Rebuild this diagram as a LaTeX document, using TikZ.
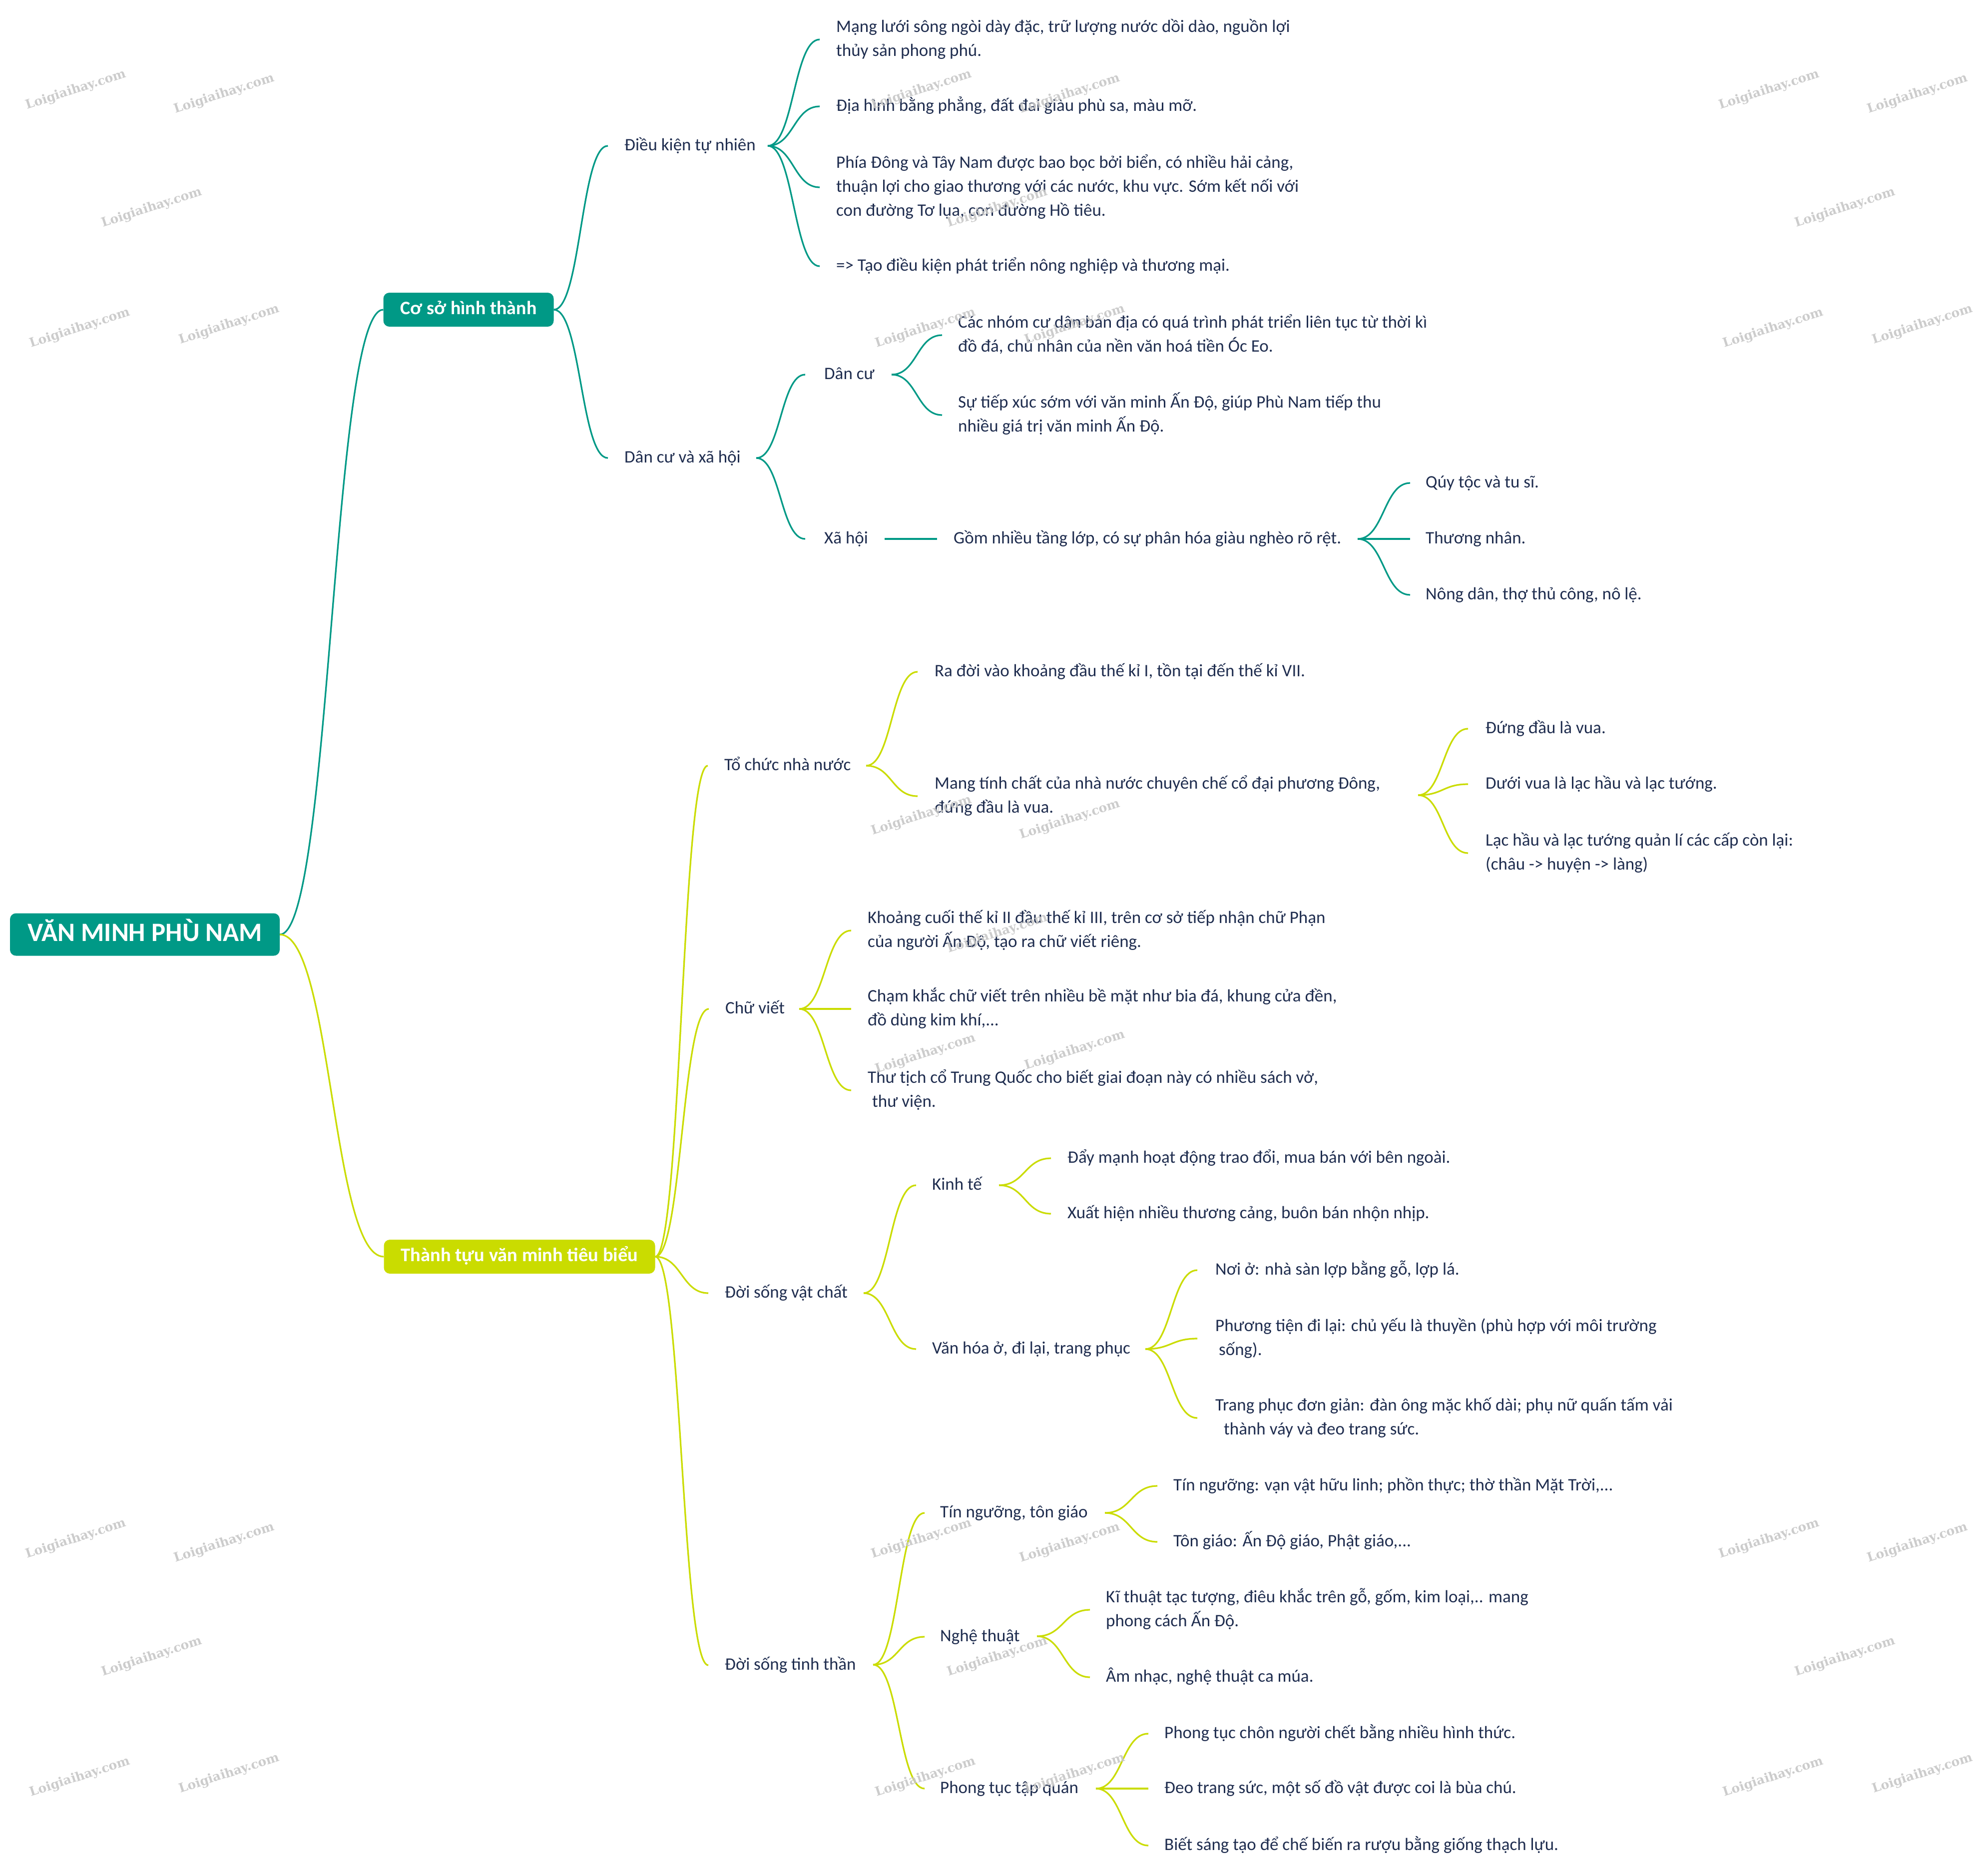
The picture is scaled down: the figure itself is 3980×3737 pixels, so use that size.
\documentclass[tikz,border=0pt]{standalone}
\usepackage{fontspec}
\setmainfont{Carlito}
\newfontfamily\wmfont{DejaVu Serif}
\usetikzlibrary{calc}
\definecolor{teal1}{RGB}{0,153,134}
\definecolor{lime1}{RGB}{202,220,0}
\definecolor{ink}{RGB}{31,45,79}
\definecolor{wmgray}{RGB}{198,198,198}
\newcommand\mmlink[3]{\draw[#1] let \p1=(#2), \p2=(#3), \n1={0.5*(\x2-\x1)} in (\p1) .. controls ({\x1+\n1*1pt},\y1) and ({\x2-\n1*1pt},\y2) .. (\p2);}
\begin{document}
\begin{tikzpicture}[x=1pt,y=-1pt,
  txt/.style={anchor=west, inner sep=0pt, align=left, text=ink, font=\fontsize{35}{48}\selectfont},
  topbox/.style={rounded corners=12pt, inner sep=0pt, text=white, font=\bfseries\fontsize{37}{48}\selectfont},
  tl/.style={draw=teal1, line width=3.2pt},
  ll/.style={draw=lime1, line width=3.2pt},
  wm/.style={rotate=18, text=wmgray, text opacity=0.9, font=\wmfont\bfseries\fontsize{25}{28}\selectfont, inner sep=0pt}]
\useasboundingbox (0,0) rectangle (3980,3737);

% ---------- top level boxes ----------
\node[topbox, fill=teal1, minimum width=540pt, minimum height=85pt, font=\bfseries\fontsize{53}{60}\selectfont] (root) at (290,1871) {\strut VĂN MINH PHÙ NAM};
\node[topbox, fill=teal1, minimum width=341pt, minimum height=68pt, font=\bfseries\fontsize{38}{48}\selectfont] (cs) at (938,620) {\strut Cơ sở hình thành};
\node[topbox, fill=lime1, minimum width=543pt, minimum height=68pt, font=\bfseries\fontsize{38.5}{48}\selectfont] (tt) at (1040,2516) {\strut Thành tựu văn minh tiêu biểu};

% ---------- Co so hinh thanh ----------
\node[txt] (dktn) at (1250,292) {\strut Điều kiện tự nhiên};
\node[txt] (dcxh) at (1250,917) {\strut Dân cư và xã hội};
\coordinate (jdktn) at (1537,292);
\coordinate (jdcxh) at (1514,917);
\node[txt] (L1) at (1674,79) {\strut Mạng lưới sông ngòi dày đặc, trữ lượng nước dồi dào, nguồn lợi\\thủy sản phong phú.\strut};
\node[txt] (L2) at (1674,213) {\strut Địa hình bằng phẳng, đất đai giàu phù sa, màu mỡ.};
\node[txt] (L3) at (1674,375) {\strut Phía Đông và Tây Nam được bao bọc bởi biển, có nhiều hải cảng,\\thuận lợi cho giao thương với các nước, khu vực. Sớm kết nối với\\con đường Tơ lụa, con đường Hồ tiêu.\strut};
\node[txt] (L4) at (1674,533) {\strut => Tạo điều kiện phát triển nông nghiệp và thương mại.};

\node[txt] (dancu) at (1650,750) {\strut Dân cư};
\node[txt] (xahoi) at (1650,1079) {\strut Xã hội};
\coordinate (jdancu) at (1785,750);
\coordinate (jxahoi) at (1771,1079);
\node[txt] (D1) at (1918,671) {\strut Các nhóm cư dân bản địa có quá trình phát triển liên tục từ thời kì\\đồ đá, chủ nhân của nền văn hoá tiền Óc Eo.\strut};
\node[txt] (D2) at (1918,831) {\strut Sự tiếp xúc sớm với văn minh Ấn Độ, giúp Phù Nam tiếp thu\\nhiều giá trị văn minh Ấn Độ.\strut};
\node[txt] (gom) at (1909,1079) {\strut Gồm nhiều tầng lớp, có sự phân hóa giàu nghèo rõ rệt.};
\coordinate (jgom) at (2718,1079);
\node[txt] (S1) at (2854,967) {\strut Qúy tộc và tu sĩ.};
\node[txt] (S2) at (2854,1079) {\strut Thương nhân.};
\node[txt] (S3) at (2854,1191) {\strut Nông dân, thợ thủ công, nô lệ.};

% ---------- Thanh tuu ----------
\node[txt] (tcnn) at (1450,1533) {\strut Tổ chức nhà nước};
\coordinate (jtcnn) at (1734,1533);
\node[txt] (R1) at (1871,1345) {\strut Ra đời vào khoảng đầu thế kỉ I, tồn tại đến thế kỉ VII.};
\node[txt] (R2) at (1871,1594) {\strut Mang tính chất của nhà nước chuyên chế cổ đại phương Đông,\\đứng đầu là vua.\strut};
\coordinate (jR2) at (2839,1592);
\node[txt] (V1) at (2974,1459) {\strut Đứng đầu là vua.};
\node[txt] (V2) at (2974,1570) {\strut Dưới vua là lạc hầu và lạc tướng.};
\node[txt] (V3) at (2974,1708) {\strut Lạc hầu và lạc tướng quản lí các cấp còn lại:\\(châu -> huyện -> làng)\strut};

\node[txt] (cv) at (1452,2020) {\strut Chữ viết};
\coordinate (jcv) at (1600,2020);
\node[txt] (K1) at (1737,1863) {\strut Khoảng cuối thế kỉ II đầu thế kỉ III, trên cơ sở tiếp nhận chữ Phạn\\của người Ấn Độ, tạo ra chữ viết riêng.\strut};
\node[txt] (K2) at (1737,2020) {\strut Chạm khắc chữ viết trên nhiều bề mặt như bia đá, khung cửa đền,\\đồ dùng kim khí,...\strut};
\node[txt] (K3) at (1737,2183) {\strut Thư tịch cổ Trung Quốc cho biết giai đoạn này có nhiều sách vở,\\\hspace*{9pt}thư viện.\strut};

\node[txt] (dsvc) at (1451,2589) {\strut Đời sống vật chất};
\coordinate (jdsvc) at (1729,2589);
\node[txt] (kt) at (1866,2373) {\strut Kinh tế};
\coordinate (jkt) at (2000,2373);
\node[txt] (E1) at (2137,2319) {\strut Đẩy mạnh hoạt động trao đổi, mua bán với bên ngoài.};
\node[txt] (E2) at (2137,2430) {\strut Xuất hiện nhiều thương cảng, buôn bán nhộn nhịp.};
\node[txt] (vh) at (1866,2701) {\strut Văn hóa ở, đi lại, trang phục};
\coordinate (jvh) at (2293,2701);
\node[txt] (N1) at (2433,2543) {\strut Nơi ở: nhà sàn lợp bằng gỗ, lợp lá.};
\node[txt] (N2) at (2433,2680) {\strut Phương tiện đi lại: chủ yếu là thuyền (phù hợp với môi trường\\\hspace*{7pt}sống).\strut};
\node[txt] (N3) at (2433,2839) {\strut Trang phục đơn giản: đàn ông mặc khố dài; phụ nữ quấn tấm vải\\\hspace*{17pt}thành váy và đeo trang sức.\strut};

\node[txt] (dstt) at (1451,3334) {\strut Đời sống tinh thần};
\coordinate (jdstt) at (1748,3333);
\node[txt] (tng) at (1882,3029) {\strut Tín ngưỡng, tôn giáo};
\coordinate (jtng) at (2212,3029);
\node[txt] (T1) at (2349,2975) {\strut Tín ngưỡng: vạn vật hữu linh; phồn thực; thờ thần Mặt Trời,...};
\node[txt] (T2) at (2349,3087) {\strut Tôn giáo: Ấn Độ giáo, Phật giáo,...};
\node[txt] (nt) at (1882,3277) {\strut Nghệ thuật};
\coordinate (jnt) at (2076,3276);
\node[txt] (A1) at (2214,3223) {\strut Kĩ thuật tạc tượng, điêu khắc trên gỗ, gốm, kim loại,.. mang\\phong cách Ấn Độ.\strut};
\node[txt] (A2) at (2214,3358) {\strut Âm nhạc, nghệ thuật ca múa.};
\node[txt] (ptq) at (1882,3581) {\strut Phong tục tập quán};
\coordinate (jptq) at (2194,3581);
\node[txt] (P1) at (2331,3471) {\strut Phong tục chôn người chết bằng nhiều hình thức.};
\node[txt] (P2) at (2331,3581) {\strut Đeo trang sức, một số đồ vật được coi là bùa chú.};
\node[txt] (P3) at (2331,3695) {\strut Biết sáng tạo để chế biến ra rượu bằng giống thạch lựu.};

% ---------- connectors: teal ----------
\mmlink{tl}{root.east}{cs.west}
\mmlink{tl}{cs.east}{[xshift=-33pt]dktn.west}
\mmlink{tl}{cs.east}{[xshift=-33pt]dcxh.west}
\foreach \c in {L1,L2,L3,L4}{\mmlink{tl}{jdktn}{[xshift=-33pt]\c.west}}
\mmlink{tl}{jdcxh}{[xshift=-38pt]dancu.west}
\mmlink{tl}{jdcxh}{[xshift=-38pt]xahoi.west}
\foreach \c in {D1,D2}{\mmlink{tl}{jdancu}{[xshift=-32pt]\c.west}}
\draw[tl] (jxahoi) -- ([xshift=-33pt]gom.west);
\foreach \c in {S1,S2,S3}{\mmlink{tl}{jgom}{[xshift=-31pt]\c.west}}

% ---------- connectors: lime ----------
\mmlink{ll}{root.east}{tt.west}
\foreach \c in {tcnn,cv,dsvc,dstt}{\mmlink{ll}{tt.east}{[xshift=-33pt]\c.west}}
\foreach \c in {R1,R2}{\mmlink{ll}{jtcnn}{[xshift=-34pt]\c.west}}
\foreach \c in {V1,V2,V3}{\mmlink{ll}{jR2}{[xshift=-35pt]\c.west}}
\foreach \c in {K1,K2,K3}{\mmlink{ll}{jcv}{[xshift=-33pt]\c.west}}
\foreach \c in {kt,vh}{\mmlink{ll}{jdsvc}{[xshift=-32pt]\c.west}}
\foreach \c in {E1,E2}{\mmlink{ll}{jkt}{[xshift=-33pt]\c.west}}
\foreach \c in {N1,N2,N3}{\mmlink{ll}{jvh}{[xshift=-36pt]\c.west}}
\foreach \c in {tng,nt,ptq}{\mmlink{ll}{jdstt}{[xshift=-31pt]\c.west}}
\foreach \c in {T1,T2}{\mmlink{ll}{jtng}{[xshift=-32pt]\c.west}}
\foreach \c in {A1,A2}{\mmlink{ll}{jnt}{[xshift=-32pt]\c.west}}
\foreach \c in {P1,P2,P3}{\mmlink{ll}{jptq}{[xshift=-32pt]\c.west}}

% ---------- watermarks ----------
\foreach \gx/\gy in {152/180,1845/180,3542/180,1845/1633,152/3081,1845/3081,3542/3081}{
  \foreach \ox/\oy in {0/0,297/8,152/236,8/477,307/470}{
    \node[wm] (w\gx-\gy-\ox) at ({\gx+\ox},{\gy+\oy}) {Loigiaihay.com};
  }
}
\end{tikzpicture}
\end{document}
